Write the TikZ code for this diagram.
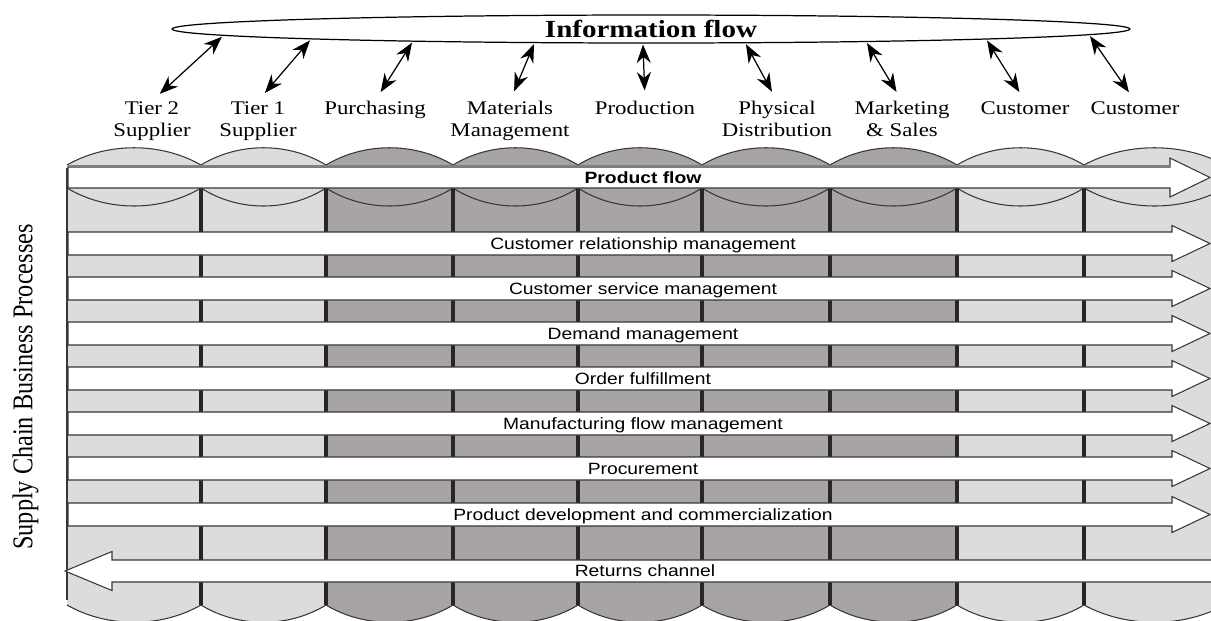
\documentclass[tikz,border=0pt]{standalone}
\usepackage{graphicx}
\usepackage{fontspec}
\setmainfont[FakeStretch=1.18]{Liberation Serif}
\setsansfont[FakeStretch=1.18]{Liberation Sans}
\newfontfamily\sidefont{Liberation Serif}
\usetikzlibrary{arrows.meta,shapes.geometric,positioning}
\definecolor{lightcol}{RGB}{222,219,222}
\definecolor{darkcol}{RGB}{167,163,167}
\definecolor{rim}{RGB}{55,55,55}

\begin{document}
\begin{tikzpicture}[x=0.02cm,y=-0.02cm,
  lbl/.style={align=center,anchor=north,inner sep=0pt,font=\fontsize{11}{12.5}\selectfont},
  infoarrow/.style={{Stealth[length=10.5pt,width=8pt]}-{Stealth[length=10.5pt,width=8pt]},line width=0.7pt},
  band/.style={fill=white,draw=rim,line width=0.6pt},
  proc/.style={font=\sffamily\fontsize{9.3}{11}\selectfont,text height=6.66pt,text depth=0pt,inner sep=0pt}]
\useasboundingbox (0,0) rectangle (1211,620);
\clip (0,0) rectangle (1211,620);
% information flow
\node[draw,ellipse,line width=0.7pt,minimum width=19.16cm,minimum height=0.56cm,inner sep=0pt] (info) at (651,29) {};
\node[font=\bfseries\fontsize{14}{16}\selectfont,text height=9.27pt,text depth=0pt,inner sep=0pt] (infotxt) at (info.center) {Information flow};
\node[lbl] (tier2) at (152,101) {Tier 2\\Supplier};
\node[lbl] (tier1) at (258,101) {Tier 1\\Supplier};
\node[lbl] (purch) at (375,101) {Purchasing};
\node[lbl] (matmgmt) at (510,101) {Materials\\Management};
\node[lbl] (prod) at (645,101) {Production};
\node[lbl] (physdist) at (777,101) {Physical\\Distribution};
\node[lbl] (mktsales) at (902,101) {Marketing\\\& Sales};
\node[lbl] (cust1) at (1025,101) {Customer};
\node[lbl] (cust2) at (1135,101) {Customer};
\foreach \xt/\lb in {222/tier2,310/tier1,412/purch,534/matmgmt,643/prod,746/physdist,867/mktsales,987/cust1,1090/cust2}{
  \coordinate (top-\lb) at (\xt,{30.5+14*sqrt(1-((\xt-651)/479)^2)});
  \draw[infoarrow,shorten >=6pt] (top-\lb) -- (\lb.north);
}
% columns
\foreach \xa/\xb/\col in {67/201/lightcol,201/326/lightcol,326/453/darkcol,453/578/darkcol,578/702/darkcol,702/830/darkcol,830/957/darkcol,957/1084/lightcol,1084/1225/lightcol}{
  \fill[\col] (\xa,165) .. controls ({\xa+0.3*(\xb-\xa)},142) and ({\xb-0.3*(\xb-\xa)},142) .. (\xb,165)
    -- (\xb,605) .. controls ({\xb-0.3*(\xb-\xa)},628) and ({\xa+0.3*(\xb-\xa)},628) .. (\xa,605) -- cycle;
  \draw[rim,line width=0.6pt] (\xa,165) .. controls ({\xa+0.3*(\xb-\xa)},142) and ({\xb-0.3*(\xb-\xa)},142) .. (\xb,165);
  \draw[rim,line width=0.6pt] (\xa,188) .. controls ({\xa+0.3*(\xb-\xa)},212) and ({\xb-0.3*(\xb-\xa)},212) .. (\xb,188);
  \draw[rim,line width=0.6pt] (\xa,605) .. controls ({\xa+0.3*(\xb-\xa)},628) and ({\xb-0.3*(\xb-\xa)},628) .. (\xb,605);
}
\draw[rim,line width=0.8pt] (67,168) -- (67,600);
\foreach \x in {201,326,453,578,702,830,957,1084}
  \draw[black!85,line width=1.8pt] (\x,188) -- (\x,605);
% product flow
\filldraw[band] (68,167) -- (1170,167) -- (1170,158) -- (1210,177.5) -- (1170,197) -- (1170,188) -- (68,188) -- cycle;
\draw[gray,line width=1pt] (68,166) -- (1170,166);
\node[proc,font=\sffamily\bfseries\fontsize{9.3}{11}\selectfont] (pflow) at (643,177.5) {Product flow};
% business processes
\foreach \t/\txt [count=\i] in {232/Customer relationship management,277/Customer service management,322/Demand management,367/Order fulfillment,412/Manufacturing flow management,457/Procurement,503/Product development and commercialization}{
  \filldraw[band] (68,\t) -- (1172,\t) -- (1172,{\t-6.5}) -- (1210,{\t+11.5}) -- (1172,{\t+29.5}) -- (1172,{\t+23}) -- (68,{\t+23}) -- cycle;
  \node[proc] (proc\i) at (643,{\t+11.5}) {\txt};
}
\filldraw[band] (1215,560) -- (112,560) -- (112,551.5) -- (65,571) -- (112,590.5) -- (112,582) -- (1215,582);
\node[proc] (returns) at (645,571) {Returns channel};
\node[rotate=90,font=\sidefont\fontsize{13.8}{16}\selectfont,text height=10.8pt,text depth=0pt,inner sep=0pt] (scbp) at (23,387) {\scalebox{1}[1.18]{Supply Chain Business Processes}};
\end{tikzpicture}
\end{document}
